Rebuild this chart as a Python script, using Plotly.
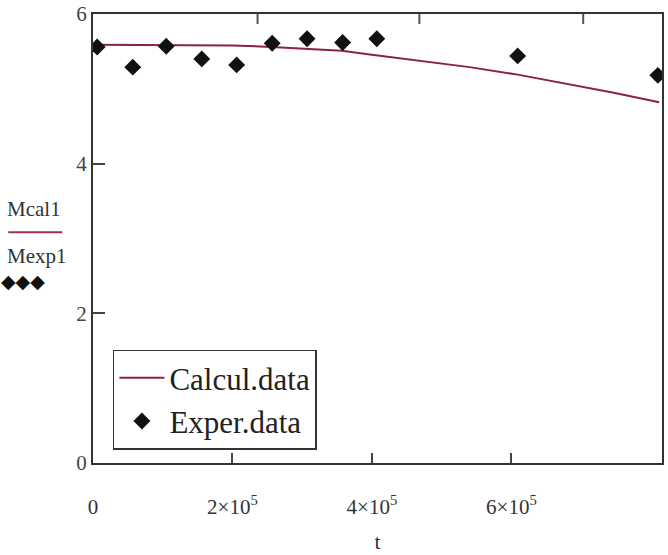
import plotly.graph_objects as go

# Experimental data (t, Mexp1)
t_exp = [6e3, 57e3, 105e3, 156e3, 206e3, 257e3, 307e3, 358e3, 407e3, 609e3, 810e3]
m_exp = [5.56, 5.29, 5.57, 5.40, 5.32, 5.61, 5.67, 5.62, 5.67, 5.44, 5.18]

# Calculated curve (t, Mcal1)
t_cal = [0, 100e3, 150e3, 200e3, 256e3, 300e3, 357e3, 397e3, 450e3, 540e3, 609e3, 677e3, 745e3, 812e3]
m_cal = [5.59, 5.59, 5.59, 5.58, 5.56, 5.54, 5.51, 5.46, 5.40, 5.29, 5.19, 5.07, 4.95, 4.82]

x_tickvals = [0, 2e5, 4e5, 6e5]
x_ticktext = ["0", "2×10<sup>5</sup>", "4×10<sup>5</sup>", "6×10<sup>5</sup>"]
y_tickvals = [0, 2, 4, 6]
top_tickvals = [236e3, 468e3, 703e3]

SERIF = "Liberation Serif, Times New Roman, serif"

fig = go.Figure()
fig.add_trace(go.Scatter(
    x=t_cal, y=m_cal, mode="lines", name="Calcul.data",
    line=dict(color="#8a2342", width=2),
))
fig.add_trace(go.Scatter(
    x=t_exp, y=m_exp, mode="markers", name="Exper.data",
    marker=dict(symbol="diamond", size=13, color="#111111"),
))

fig.update_layout(
    width=668, height=555,
    margin=dict(l=93, r=6, t=14, b=92),
    paper_bgcolor="white", plot_bgcolor="white",
    font=dict(family=SERIF, color="#333333", size=22),
    xaxis=dict(
        range=[0, 816e3], tickvals=x_tickvals, ticktext=x_ticktext,
        ticks="inside", ticklen=10, tickwidth=2, tickcolor="#444",
        showline=True, linecolor="#333", linewidth=2, mirror=True,
        showgrid=False, zeroline=False, automargin=False,
        tickfont=dict(size=21, color="#333"),
        ticklabelstandoff=24,
        title=dict(text="t", font=dict(size=22, color="#333"), standoff=15),
    ),
    yaxis=dict(
        range=[0, 6], tickvals=y_tickvals,
        ticks="inside", ticklen=12, tickwidth=2, tickcolor="#444",
        showline=True, linecolor="#333", linewidth=2, mirror=True,
        showgrid=False, zeroline=False, automargin=False,
        tickfont=dict(size=21, color="#444"),
        ticklabelstandoff=0,
    ),
    legend=dict(
        x=0.035, y=0.03, xanchor="left", yanchor="bottom",
        bordercolor="#333", borderwidth=1.5, bgcolor="white",
        font=dict(family=SERIF, size=31, color="#222"),
        itemwidth=45, tracegroupgap=0,
    ),
    showlegend=True,
)

# short tick marks along the top border
for tv in top_tickvals:
    fig.add_shape(type="line", xref="x", yref="paper", x0=tv, x1=tv, y0=1, y1=1 - 10 / 449,
                  line=dict(color="#555", width=2))

# Mathcad-style axis labels at left
fig.add_annotation(xref="paper", yref="paper", x=-0.155, y=0.565, xanchor="left", yanchor="middle",
                   text="Mcal1", showarrow=False, font=dict(family=SERIF, size=21, color="#333"))
fig.add_shape(type="line", xref="paper", yref="paper", x0=-0.149, x1=-0.054, y0=0.514, y1=0.514,
              line=dict(color="#a0304f", width=2))
fig.add_annotation(xref="paper", yref="paper", x=-0.155, y=0.46, xanchor="left", yanchor="middle",
                   text="Mexp1", showarrow=False, font=dict(family=SERIF, size=21, color="#333"))
fig.add_annotation(xref="paper", yref="paper", x=-0.165, y=0.405, xanchor="left", yanchor="middle",
                   text="◆◆◆", showarrow=False, font=dict(family="DejaVu Sans", size=19, color="#111"))

fig.write_html("out.html", config={"displayModeBar": False},
               post_script="document.body.style.margin='0px';")
